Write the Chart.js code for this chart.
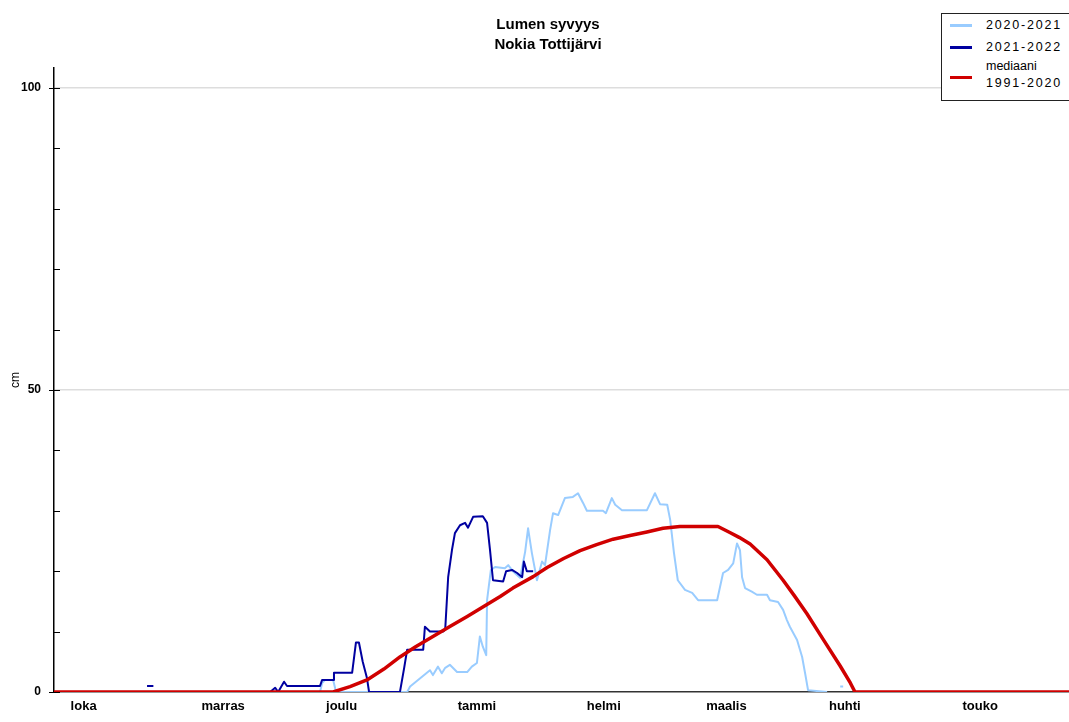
<!DOCTYPE html>
<html>
<head>
<meta charset="utf-8">
<script src="https://cdn.jsdelivr.net/npm/chart.js@4.4.0/dist/chart.umd.min.js"></script>
<style>
  body { margin: 0; background: #fff; }
  #wrap { position: relative; width: 1069px; height: 722px; }
  #legend {
    position: absolute; left: 941px; top: 13px; width: 132px; height: 86px;
    border: 1.5px solid #222; background: #fff;
    font: 12.5px "Liberation Sans", Arial, sans-serif; color: #000;
  }
  .swatch { position: absolute; left: 8px; width: 22px; height: 3px; }
  .txt { position: absolute; left: 44px; white-space: nowrap; line-height: 14px; }
  .yr { letter-spacing: 1.8px; }
</style>
</head>
<body>
<div id="wrap">
  <canvas id="myChart" width="1069" height="722"></canvas>
  <div id="legend">
    <div class="swatch" style="top:10px;background:#99ccff"></div>
    <div class="txt yr" style="top:4px">2020-2021</div>
    <div class="swatch" style="top:32px;background:#0000a0"></div>
    <div class="txt yr" style="top:26px">2021-2022</div>
    <div class="swatch" style="top:62px;background:#d00000"></div>
    <div class="txt" style="top:45px">mediaani</div>
    <div class="txt yr" style="top:62px">1991-2020</div>
  </div>
</div>
<script>
// days counted from 1 Oct (0 = 1.10.)
const monthNames = ["loka", "marras", "joulu", "tammi", "helmi", "maalis", "huhti", "touko"];
const monthTickDays = [7, 40, 68, 100, 130, 159, 187, 219];

const yTickValues = [0, 10, 20, 30, 40, 50, 60, 70, 80, 90, 100];
const yLabelValues = [0, 50, 100];

// 2020-2021
const days2021 = [0, 62.9, 63.4, 64.1, 66, 66.7, 83.5, 84.2, 88.9, 89.6, 90.8, 91.7, 92.5, 93.6, 95.3, 97.7, 98.8, 100,
  100.7, 101.4, 102.2, 102.4, 103.3, 104.3, 106.6, 107.4, 108.5, 110.2, 111.4, 112.1, 113, 114.2, 115.4, 116.1,
  117.3, 118, 119.2, 120.8, 122.7, 123.9, 125.1, 126, 129.8, 130.5, 131.9, 132.7, 134.3, 140.2, 142.1, 143.3, 145,
  145.7, 146.6, 147.5, 149.2, 150.9, 152.3, 156.8, 158.2, 159.4, 160.6, 161.5, 162.2, 162.7, 163.4, 165, 166.2,
  168.6, 169.3, 171.2, 172.4, 173.3, 174, 175.7, 176.9, 177.6, 178.3, 182.8, 183.5, 185.9, 186.6];
const snow2021 = [0, 0, 1.5, 2, 2, 0, 0, 0.9, 3.6, 2.8, 4.2, 3.1, 4, 4.5, 3.3, 3.3, 4.2, 4.8,
  9.2, 7.5, 6.1, 15.2, 20.2, 20.7, 20.5, 21, 20, 18.9, 23.2, 27.1, 23, 18.5, 21.6, 21,
  26.8, 29.6, 29.3, 32.1, 32.3, 32.9, 31.3, 30, 30, 29.6, 32.1, 31, 30.1, 30.1, 32.9, 31.1, 31,
  28.5, 23, 18.5, 16.9, 16.4, 15.2, 15.2, 19.7, 20.2, 21.3, 24.6, 23.5, 19, 17.2, 16.6, 16.1,
  16.1, 15.2, 14.9, 13.6, 11.9, 10.8, 8.6, 5.8, 3.1, 0.3, 0, null, 0.9, 0.9];

// 2021-2022
const days2122 = [21, 22, 23.5, 24, 45, 51.1, 52.3, 53, 54.4, 55.1, 62.9, 63.4, 66, 66.2, 70.5, 71, 71.4, 72.1, 73, 74,
  74.5, 81.8, 82.8, 83.5, 87.3, 87.7, 88.9, 92, 92.5, 93.2, 94.1, 94.8, 96, 97.2, 97.9, 99.1, 101.4, 102.4, 103.1,
  103.8, 106.2, 106.9, 108.3, 109.5, 110.7, 111.1, 111.8, 113.3];
const snow2122 = [null, 1, 1, null, 0, 0, 0.7, 0, 1.7, 1, 1, 2, 2, 3.2, 3.2, 6, 8.2, 8.2, 5, 2.3,
  0, 0, 4, 7, 7, 10.8, 10, 10, 10.3, 19, 23.5, 26.3, 27.6, 28, 27.2, 29, 29.1, 28, 23.5,
  18.5, 18.3, 20, 20.2, 19.7, 19, 21.6, 20, 20];

// mediaani 1991-2020
const daysMedian = [0, 66, 70, 74, 78, 81.8, 85.5, 89.6, 93.5, 97.7, 101.5, 105.5, 108.5, 113.3, 116.6, 120.5, 124.4,
  128.3, 132.2, 136.2, 140.2, 144, 148, 157, 159.8, 162, 164.6, 168.6, 172.4, 175, 178, 181.8, 185.9, 188.3, 189.4, 240];
const snowMedian = [0, 0, 0.9, 2, 3.8, 5.8, 7.5, 9.2, 10.8, 12.5, 14.1, 15.8, 17.2, 19.1, 20.6, 22.1, 23.4,
  24.4, 25.3, 25.9, 26.5, 27.1, 27.4, 27.4, 26.4, 25.6, 24.5, 21.9, 18.5, 16, 13, 8.8, 4.3, 1.5, 0, 0];

const toPoints = (days, vals) => days.map((d, i) => ({ x: d, y: vals[i] }));

// title drawn centred over the plot
const titlePlugin = {
  id: "titleLines",
  afterDraw(chart) {
    const ctx = chart.ctx;
    ctx.save();
    ctx.fillStyle = "#000";
    ctx.font = "bold 15px 'Liberation Sans', Arial, sans-serif";
    ctx.textAlign = "center";
    ctx.textBaseline = "middle";
    ctx.fillText("Lumen syvyys", 548, 25);
    ctx.fillText("Nokia Tottijärvi", 548, 45);
    ctx.restore();
  }
};

// short inward tick marks on the y axis
const yTickPlugin = {
  id: "yTicks",
  afterDraw(chart) {
    const y = chart.scales.y;
    const ctx = chart.ctx;
    ctx.save();
    ctx.strokeStyle = "#000";
    ctx.lineWidth = 1;
    yTickValues.forEach(v => {
      const py = Math.round(y.getPixelForValue(v)) + 0.5;
      const start = yLabelValues.includes(v) ? y.right - 5 : y.right;
      ctx.beginPath();
      ctx.moveTo(start, py);
      ctx.lineTo(y.right + 6, py);
      ctx.stroke();
    });
    ctx.restore();
  }
};

const ctx = document.getElementById("myChart").getContext("2d");
new Chart(ctx, {
  type: "line",
  data: {
    datasets: [
      {
        label: "mediaani 1991-2020",
        data: toPoints(daysMedian, snowMedian),
        borderColor: "#d00000",
        borderWidth: 3.5,
        order: 1
      },
      {
        label: "2021-2022",
        data: toPoints(days2122, snow2122),
        borderColor: "#0000a0",
        borderWidth: 2,
        order: 2
      },
      {
        label: "2020-2021",
        data: toPoints(days2021, snow2021),
        borderColor: "#99ccff",
        borderWidth: 2,
        order: 3
      }
    ]
  },
  options: {
    responsive: false,
    animation: false,
    devicePixelRatio: 1,
    spanGaps: false,
    elements: { point: { radius: 0 }, line: { tension: 0, borderJoinStyle: "round" } },
    layout: { padding: { top: 68, right: 0, left: 0, bottom: 0 } },
    plugins: { legend: { display: false }, tooltip: { enabled: false }, title: { display: false } },
    scales: {
      x: {
        type: "linear",
        min: 0,
        max: 240,
        afterBuildTicks: (scale) => { scale.ticks = monthTickDays.map(v => ({ value: v })); },
        afterFit: (scale) => { scale.height = 30; },
        ticks: {
          autoSkip: false,
          maxRotation: 0,
          padding: 7,
          color: "#000",
          font: { family: "'Liberation Sans', Arial, sans-serif", size: 13, weight: "bold" },
          callback: (v) => monthNames[monthTickDays.indexOf(v)]
        },
        grid: { display: false, drawTicks: false },
        border: { display: true, color: "#333", width: 1.5 }
      },
      y: {
        min: 0,
        max: 103.3,
        afterBuildTicks: (scale) => { scale.ticks = yTickValues.map(v => ({ value: v })); },
        afterFit: (scale) => { scale.width = 54; },
        ticks: {
          padding: 13,
          color: "#000",
          font: { family: "'Liberation Sans', Arial, sans-serif", size: 12, weight: "bold" },
          callback: (v) => (yLabelValues.includes(v) ? String(v) : "")
        },
        grid: {
          drawTicks: false,
          color: (c) => (c.tick && (c.tick.value === 50 || c.tick.value === 100) ? "#dddddd" : "rgba(0,0,0,0)"),
          lineWidth: 1.5
        },
        border: { display: true, color: "#000", width: 1.5 },
        title: {
          display: true,
          text: "cm",
          color: "#000",
          padding: { top: 8, bottom: 0 },
          font: { family: "'Liberation Sans', Arial, sans-serif", size: 12 }
        }
      }
    }
  },
  plugins: [titlePlugin, yTickPlugin]
});
</script>
</body>
</html>
